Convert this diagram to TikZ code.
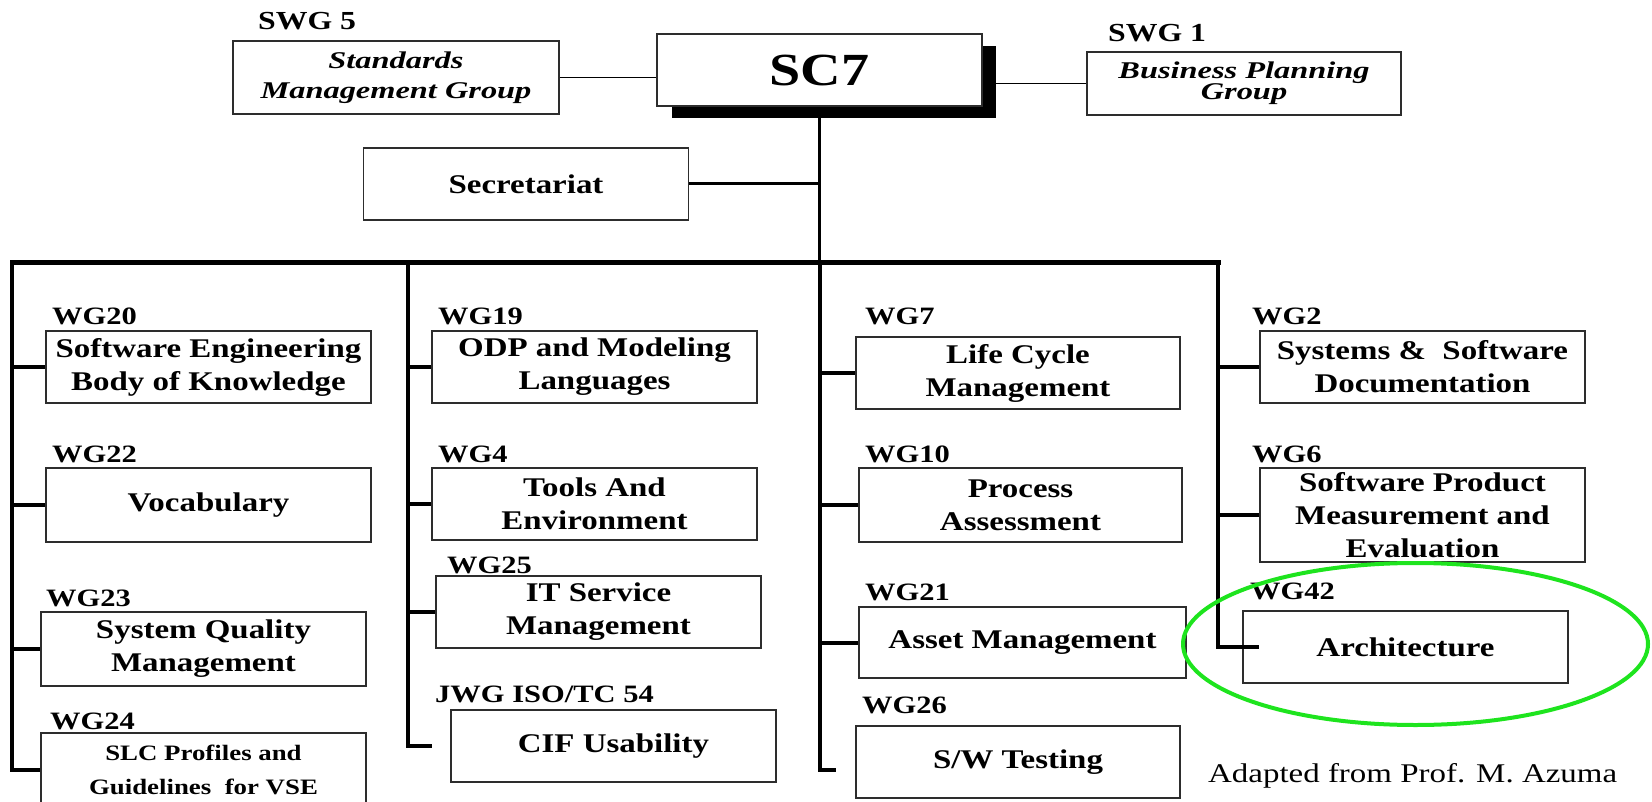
\documentclass[tikz,border=0pt]{standalone}
\usepackage{fontspec}
\setmainfont{Liberation Serif}[FakeStretch=1.22]
\newfontfamily\widefont{Liberation Serif}[FakeStretch=1.35]
\definecolor{hl}{RGB}{30,228,30}
\definecolor{bd}{RGB}{45,45,45}
\begin{document}
\begin{tikzpicture}[x=1pt,y=-1pt,
  box/.style={draw=bd, line width=1.8pt, fill=white, minimum width=325pt, minimum height=72pt,
    inner sep=0pt, align=center, font=\fontsize{27}{33}\selectfont\bfseries},
  topbox/.style={draw=bd, line width=1.5pt, fill=white, inner sep=0pt, align=center,
    font=\widefont\fontsize{24}{30}\selectfont\bfseries\itshape},
  lbl/.style={anchor=base west, inner sep=0pt, font=\fontsize{25}{30}\selectfont\bfseries},
  bus/.style={line width=5pt, line cap=rect},
  colline/.style={line width=4pt, line cap=rect},
  branch/.style={line width=4pt},
  thinline/.style={line width=1.5pt},
]
\useasboundingbox (0,0) rectangle (1652,802);

% ---------- top level ----------
\node[fill=black, minimum width=324pt, minimum height=72pt, inner sep=0pt] (sc7s) at (834,82) {};
\node[draw=bd, line width=1.5pt, fill=white, minimum width=325pt, minimum height=72pt, inner sep=0pt,
  font=\fontsize{46}{50}\selectfont\bfseries] (sc7) at (819.5,70) {SC7};

\node[lbl, font=\fontsize{26}{30}\selectfont\bfseries] (swg5) at (258,30) {SWG 5};
\node[topbox, minimum width=326pt, minimum height=73pt] (smg) at (396,77.5) {Standards\\Management Group};

\node[lbl, font=\fontsize{26}{30}\selectfont\bfseries] (swg1) at (1108,42) {SWG 1};
\node[topbox, minimum width=314pt, minimum height=63pt,
  font=\widefont\fontsize{24}{21}\selectfont\bfseries\itshape] (bpg) at (1244,83.5) {Business Planning\\Group};

\node[box] (sec) at (526,184) {Secretariat};

\draw[thinline] (smg.east) -- (smg.east -| sc7.west);
\draw[thinline] (bpg.west -| sc7s.east) -- (bpg.west);

% bus coordinates
\coordinate (b1) at (12,263);
\coordinate (b2) at (408,263);
\coordinate (b3) at (819.5,263);
\coordinate (b4) at (1218,263);

\draw[line width=3pt] (sc7s.south -| sc7.south) -- (b3);
\draw[line width=3pt] (sec.east) -- (sec.east -| b3);
\draw[bus] (b1) -- (b4);

% ---------- column 1 ----------
\node[lbl] (l20) at (52,325) {WG20};
\node[box] (wg20) at (208.5,367) {Software Engineering\\Body of Knowledge};
\node[lbl] (l22) at (52,462) {WG22};
\node[box, minimum height=74pt] (wg22) at (208.5,505) {Vocabulary};
\node[lbl] (l23) at (46,606) {WG23};
\node[box, minimum height=74pt] (wg23) at (203.5,649) {System Quality\\Management};
\node[lbl] (l24) at (50,729) {WG24};
\node[box, minimum height=74pt, font=\fontsize{22}{34}\selectfont\bfseries] (wg24) at (203.5,770)
  {SLC Profiles and\\Guidelines\ \ for VSE};

\draw[colline] (b1) -- (b1 |- wg24.west);
\foreach \n in {wg20,wg22,wg23,wg24} \draw[branch] (b1 |- \n.west) -- (\n.west);

% ---------- column 2 ----------
\node[lbl] (l19) at (438,325) {WG19};
\node[box] (wg19) at (594.5,367) {ODP and Modeling\\Languages};
\node[lbl] (l4) at (438,462) {WG4};
\node[box] (wg4) at (594.5,504) {Tools And\\Environment};
\node[lbl] (l25) at (447,573) {WG25};
\node[box] (wg25) at (598.5,612) {IT Service\\Management};
\node[lbl] (ljwg) at (435,702) {JWG ISO/TC 54};
\node[box] (cif) at (613.5,746) {CIF Usability};

\draw[colline] (b2) -- (b2 |- cif.west);
\foreach \n in {wg19,wg4,wg25} \draw[branch] (b2 |- \n.west) -- (\n.west);
\draw[branch, shorten >=18pt] (b2 |- cif.west) -- (cif.west);

% ---------- column 3 ----------
\node[lbl] (l7) at (865,325) {WG7};
\node[box, minimum width=324pt] (wg7) at (1018,373) {Life Cycle\\Management};
\node[lbl] (l10) at (865,462) {WG10};
\node[box, minimum width=323pt, minimum height=74pt] (wg10) at (1020.5,505) {Process\\Assessment};
\node[lbl] (l21) at (865,600) {WG21};
\node[box, minimum width=327pt, minimum height=71pt] (wg21) at (1022.5,642.5) {Asset Management};
\node[lbl] (l26) at (862,713) {WG26};
\node[box, minimum width=324pt] (sw) at (1018,762) {S/W Testing};

\coordinate (c3e) at (819.5,770);
\draw[colline] (b3) -- (c3e);
\foreach \n in {wg7,wg10,wg21} \draw[branch] (b3 |- \n.west) -- (\n.west);
\draw[branch, shorten >=19pt] (c3e) -- (c3e -| sw.west);

% ---------- column 4 ----------
\node[lbl] (l2) at (1252,325) {WG2};
\node[box] (wg2) at (1422.5,367) {Systems \&\ \ Software\\Documentation};
\node[lbl] (l6) at (1252,462) {WG6};
\node[box, minimum height=94pt] (wg6) at (1422.5,515) {Software Product\\Measurement and\\Evaluation};
\node[lbl] (l42) at (1250,599) {WG42};
\node[box] (wg42) at (1405.5,647) {Architecture};

\draw[colline] (b4) -- (b4 |- wg42.west);
\foreach \n in {wg2,wg6} \draw[branch] (b4 |- \n.west) -- (\n.west);
\draw[branch, shorten >=-17pt] (b4 |- wg42.west) -- (wg42.west);

% ---------- source note and highlight ----------
\node[anchor=base west, inner sep=0pt, font=\fontsize{27}{30}\selectfont] (src) at (1208,782)
  {Adapted from Prof. M. Azuma};

\draw[hl, line width=4pt] (1415.5,644) ellipse [x radius=232.5pt, y radius=81pt];
\end{tikzpicture}
\end{document}
